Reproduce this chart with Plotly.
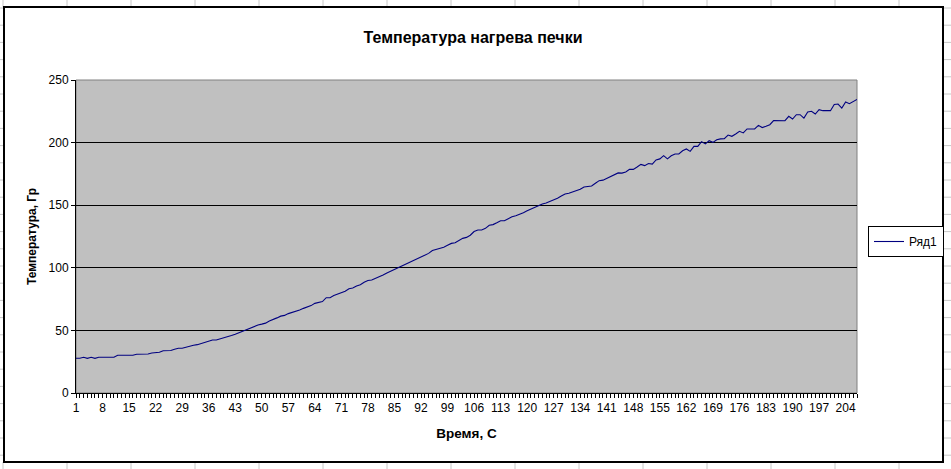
import plotly.graph_objects as go

# ---- data ----
time_points = list(range(1, 208))
temperature = [
    27.7, 27.7, 28.5, 27.7, 28.5, 27.7, 28.5, 28.5, 28.5, 28.5, 28.5,
    30.1, 30.1, 30.1, 30.1, 30.1, 30.9, 30.9, 31.2, 31.2, 31.9, 31.9,
    32.5, 33.8, 33.8, 34.0, 34.9, 35.7, 35.7, 36.5, 37.8, 38.2, 38.6,
    39.4, 40.2, 41.3, 42.3, 42.3, 43.1, 44.5, 45.0, 46.0, 47.0, 48.2,
    49.4, 50.9, 51.6, 53.0, 54.3, 55.0, 55.8, 57.5, 58.5, 60.0, 61.4,
    62.0, 63.4, 64.2, 65.0, 66.3, 67.6, 68.4, 69.8, 71.6, 72.2, 73.0,
    76.1, 76.1, 77.8, 79.1, 80.1, 81.3, 83.3, 83.8, 85.5, 86.5, 88.5,
    89.8, 90.2, 91.4, 92.9, 94.3, 95.8, 97.2, 99.0, 100.0, 101.6, 103.0,
    104.0, 105.6, 106.8, 108.5, 110.0, 111.5, 113.8, 114.6, 116.0, 116.4, 118.0,
    119.5, 120.0, 121.8, 123.5, 124.3, 126.0, 129.0, 130.2, 130.2, 131.5, 134.0,
    134.5, 136.0, 137.6, 137.6, 139.5, 140.8, 141.6, 142.6, 144.0, 145.5, 147.0,
    148.3, 149.4, 151.0, 151.8, 153.0, 154.8, 155.5, 157.3, 159.0, 159.6, 160.8,
    161.8, 162.7, 164.6, 165.0, 165.3, 167.5, 169.6, 170.0, 171.5, 173.0, 174.0,
    175.8, 175.6, 176.5, 178.6, 178.6, 180.5, 182.6, 181.6, 183.3, 182.8, 186.2,
    187.0, 189.6, 187.0, 189.5, 190.9, 190.9, 193.5, 194.9, 193.0, 197.0, 197.0,
    200.8, 199.0, 201.5, 200.2, 202.3, 203.0, 203.1, 206.0, 205.0, 206.9, 209.0,
    207.7, 210.9, 210.9, 210.9, 213.8, 212.0, 213.0, 214.3, 217.6, 217.6, 217.6,
    217.5, 221.0, 218.8, 222.3, 222.3, 219.6, 224.4, 225.0, 222.8, 226.3, 225.5,
    225.5, 225.5, 230.5, 230.8, 227.6, 232.4, 231.1, 233.0, 234.5,
]
x_tick_labels = [1, 8, 15, 22, 29, 36, 43, 50, 57, 64, 71, 78, 85, 92, 99, 106,
                 113, 120, 127, 134, 141, 148, 155, 162, 169, 176, 183, 190, 197, 204]
y_tick_labels = [0, 50, 100, 150, 200, 250]

title_text = "Температура нагрева печки"
x_title = "Время, С"
y_title = "Температура, Гр"
series_name = "Ряд1"

# ---- layout geometry (pixels) ----
W, H = 951, 469
L, R, T, B = 76, 857, 80, 393

def px(xp):
    return (xp - L) / (R - L)

def py(yp):
    return (B - yp) / (B - T)

FONT = "Liberation Sans, Arial, sans-serif"

fig = go.Figure()
fig.add_trace(go.Scatter(
    x=time_points, y=temperature, mode="lines", name=series_name,
    line=dict(color="#000080", width=1.1),
))

shapes = []
# spreadsheet cell grid outside the chart border
grid_col = "#C8C8C8"
for cx in range(3, W + 1, 64):
    shapes.append(dict(type="line", xref="paper", yref="paper",
                       x0=px(cx), x1=px(cx), y0=py(0), y1=py(7),
                       line=dict(color=grid_col, width=1), layer="below"))
    shapes.append(dict(type="line", xref="paper", yref="paper",
                       x0=px(cx), x1=px(cx), y0=py(462), y1=py(469),
                       line=dict(color=grid_col, width=1), layer="below"))
ry = 8.0
while ry < H:
    shapes.append(dict(type="line", xref="paper", yref="paper",
                       x0=px(0), x1=px(4), y0=py(ry), y1=py(ry),
                       line=dict(color=grid_col, width=1), layer="below"))
    shapes.append(dict(type="line", xref="paper", yref="paper",
                       x0=px(943), x1=px(W), y0=py(ry), y1=py(ry),
                       line=dict(color=grid_col, width=1), layer="below"))
    ry += 17.2
# chart border
shapes.append(dict(type="rect", xref="paper", yref="paper",
                   x0=px(4), x1=px(943), y0=py(462), y1=py(7),
                   line=dict(color="black", width=2), layer="below"))
# plot area gray border (top/right)
shapes.append(dict(type="rect", xref="paper", yref="paper",
                   x0=0, x1=1, y0=0, y1=1,
                   line=dict(color="#808080", width=1), layer="below"))

fig.update_layout(
    width=W, height=H, autosize=False,
    margin=dict(l=L, r=W - R, t=T, b=H - B, pad=0, autoexpand=False),
    paper_bgcolor="white",
    plot_bgcolor="#C0C0C0",
    font=dict(family=FONT, size=12, color="black"),
    title=dict(text="<b>" + title_text + "</b>", x=473 / W, xref="container",
               xanchor="center", y=1 - 37 / H, yref="container", yanchor="middle",
               font=dict(family=FONT, size=16, color="black")),
    showlegend=True,
    legend=dict(x=px(868), y=py(226), xanchor="left", yanchor="top",
                bordercolor="black", borderwidth=1, bgcolor="white",
                font=dict(family=FONT, size=12, color="black"),
                itemwidth=30, tracegroupgap=0),
    shapes=shapes,
    xaxis=dict(
        range=[1, 207], tickmode="array", tickvals=x_tick_labels,
        ticktext=[str(v) for v in x_tick_labels],
        ticks="outside", ticklen=4, tickcolor="black", tickwidth=1,
        minor=dict(tickmode="linear", tick0=1, dtick=1, ticks="outside",
                   ticklen=4, tickcolor="black", tickwidth=1, showgrid=False),
        showgrid=False, zeroline=False, automargin=False,
        showline=True, linecolor="black", linewidth=1,
        tickfont=dict(family=FONT, size=12, color="black"),
        title=dict(text="<b>" + x_title + "</b>", standoff=14,
                   font=dict(family=FONT, size=13.5, color="black")),
    ),
    yaxis=dict(
        range=[0, 250], tickmode="array", tickvals=y_tick_labels,
        ticks="outside", ticklen=4, tickcolor="black", tickwidth=1,
        showgrid=True, gridcolor="black", gridwidth=1,
        zeroline=False, automargin=False,
        showline=True, linecolor="black", linewidth=1,
        tickfont=dict(family=FONT, size=12, color="black"),
        title=dict(text="<b>" + y_title + "</b>", standoff=9,
                   font=dict(family=FONT, size=12, color="black")),
    ),
)

fig.write_html(
    "out.html",
    config={"displayModeBar": False},
    post_script="document.body.style.margin='0';document.body.style.overflow='hidden';",
)
